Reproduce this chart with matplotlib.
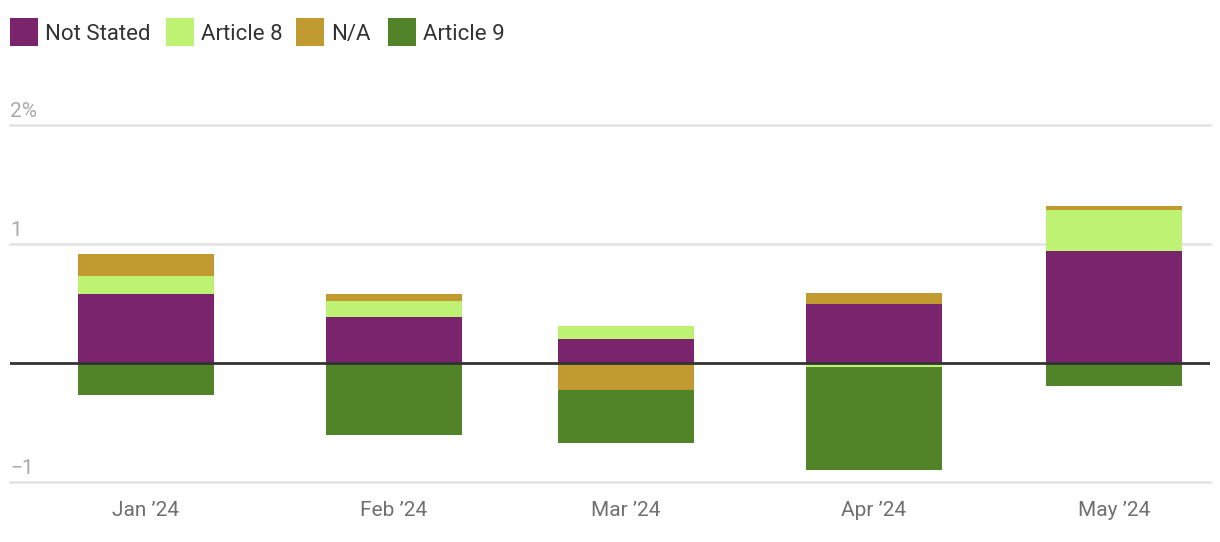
import numpy as np
import matplotlib
matplotlib.use("Agg")
import matplotlib.pyplot as plt
import matplotlib.dates as mdates
from matplotlib.patches import Rectangle
import datetime as dt

plt.rcParams['font.family'] = ['Roboto', 'DejaVu Sans']

# data (% of assets)
months = ["Jan \u201924", "Feb \u201924", "Mar \u201924", "Apr \u201924", "May \u201924"]
dates = [dt.date(2024, 1, 1), dt.date(2024, 2, 1), dt.date(2024, 3, 1),
         dt.date(2024, 4, 1), dt.date(2024, 5, 1)]
series = ["Not Stated", "Article 8", "N/A", "Article 9"]
not_stated = [0.58, 0.39, 0.20, 0.50, 0.94]
article_8 = [0.15, 0.13, 0.11, -0.03, 0.345]
n_a = [0.185, 0.06, -0.23, 0.09, 0.035]
article_9 = [-0.27, -0.605, -0.44, -0.87, -0.19]
colors = ["#7B246E", "#BEF272", "#C29B30", "#518428"]

x = mdates.date2num(dates)

W, H = 1220, 542
fig = plt.figure(figsize=(W / 100, H / 100), dpi=100)
ax = fig.add_axes([10 / W, 60 / H, 1200 / W, 357 / H])

# stack positives and negatives separately
pos_bottom = np.zeros(len(x))
neg_bottom = np.zeros(len(x))
for name, vals, c in zip(series, [not_stated, article_8, n_a, article_9], colors):
    vals = np.array(vals)
    bottom = np.where(vals >= 0, pos_bottom, neg_bottom)
    ax.bar(x, vals, width=17, bottom=bottom, color=c, linewidth=0, zorder=3)
    pos_bottom += np.clip(vals, 0, None)
    neg_bottom += np.clip(vals, None, 0)

ax.set_xlim(x[0] - 17, x[-1] + 12)
ax.set_ylim(-1, 2)

for v in [2, 1, -1]:
    ax.axhline(v, color="#e3e3e3", lw=1.8, zorder=1, clip_on=False)
ax.axhline(0, color="#333333", lw=2, zorder=4)

for v, lab in [(2, "2%"), (1, "1"), (-1, "\u22121")]:
    ax.text(0, v + 0.03, lab, transform=ax.get_yaxis_transform(), ha="left", va="bottom",
            fontsize=15, color="#aaaaaa")

ax.set_xticks(x)
ax.set_xticklabels(months, fontsize=15, color="#707070")
ax.tick_params(axis="x", length=0, pad=14)
ax.set_yticks([])
for s in ax.spines.values():
    s.set_visible(False)

# legend row across the top
leg_x = [10, 166, 296, 388]
for lx, name, c in zip(leg_x, series, colors):
    fig.add_artist(Rectangle((lx / W, 1 - 46 / H), 28 / W, 28 / H,
                             transform=fig.transFigure, facecolor=c, edgecolor="none"))
    fig.text((lx + 35) / W, 1 - 32 / H, name, ha="left", va="center_baseline",
             fontsize=16, color="#333333")

fig.savefig("out.png", dpi=100)
